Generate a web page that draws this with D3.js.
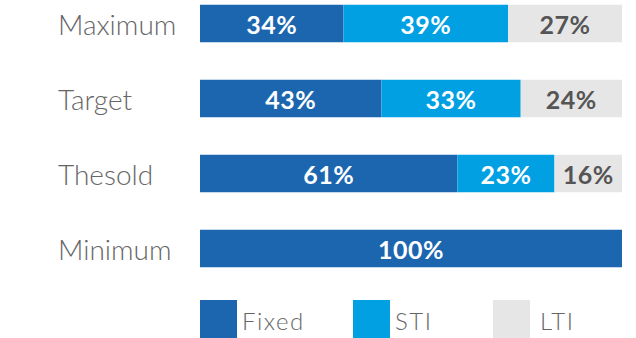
<!DOCTYPE html>
<html>
<head>
<meta charset="utf-8">
<script src="https://cdn.jsdelivr.net/npm/d3@7"></script>
<style>
  body { margin: 0; background: #fff; }
  svg { display: block; }
</style>
</head>
<body>
<svg width="636" height="338"></svg>
<script>
const categories = ["Maximum", "Target", "Thesold", "Minimum"];
const seriesNames = ["Fixed", "STI", "LTI"];
const fixed = [34, 43, 61, 100];
const sti = [39, 33, 23, 0];
const lti = [27, 24, 16, 0];
const colors = ["#1c66b0", "#00a0e3", "#e6e6e6"];
const textColors = ["#fff", "#fff", "#555"];

const rows = categories.map((c, i) => ({ cat: c, Fixed: fixed[i], STI: sti[i], LTI: lti[i] }));

const svg = d3.select("svg");

const x = d3.scaleLinear().domain([0, 100]).range([200, 622]);
const y = d3.scaleBand().domain(categories).range([-14, 286]).paddingInner(0.5).paddingOuter(0.25);

const stack = d3.stack().keys(seriesNames)(rows);

const layer = svg.append("g")
  .selectAll("g")
  .data(stack)
  .enter()
  .append("g")
  .attr("fill", (d, i) => colors[i]);

layer.selectAll("rect")
  .data(d => d.filter(s => s[1] - s[0] > 0))
  .enter()
  .append("rect")
  .attr("x", d => x(d[0]))
  .attr("y", d => y(d.data.cat))
  .attr("width", d => x(d[1]) - x(d[0]))
  .attr("height", y.bandwidth());

layer.each(function(s, i) {
  d3.select(this).selectAll("text")
    .data(s.filter(d => d[1] - d[0] > 0))
    .enter()
    .append("text")
    .attr("x", d => (x(d[0]) + x(d[1])) / 2)
    .attr("y", d => y(d.data.cat) + y.bandwidth() / 2 + 1)
    .attr("dy", "0.36em")
    .attr("text-anchor", "middle")
    .style("fill", textColors[i])
    .style("font-family", "Lato, sans-serif")
    .style("font-weight", "700")
    .style("font-size", "25px")
    .style("letter-spacing", "0.5px")
    .text(d => (d[1] - d[0]) + "%");
});

svg.append("g")
  .selectAll("text")
  .data(categories)
  .enter()
  .append("text")
  .attr("x", 58)
  .attr("y", d => y(d) + y.bandwidth() / 2 + 1)
  .attr("dy", "0.36em")
  .style("fill", "#666")
  .style("font-family", "Lato, sans-serif")
  .style("font-weight", "300")
  .style("font-size", "28px")
  .text(d => d);

// legend
const legendX = [200, 353, 493];
const legend = svg.append("g")
  .selectAll("g")
  .data(seriesNames)
  .enter()
  .append("g")
  .attr("transform", (d, i) => `translate(${legendX[i]},300)`);

legend.append("rect")
  .attr("width", 37)
  .attr("height", 38)
  .attr("fill", (d, i) => colors[i]);

legend.append("text")
  .attr("x", (d, i) => i === 2 ? 47 : 42)
  .attr("y", 21)
  .attr("dy", "0.36em")
  .style("fill", "#666")
  .style("font-family", "Lato, sans-serif")
  .style("font-weight", "300")
  .style("font-size", "24px")
  .style("letter-spacing", "1.5px")
  .text(d => d);
</script>
</body>
</html>
